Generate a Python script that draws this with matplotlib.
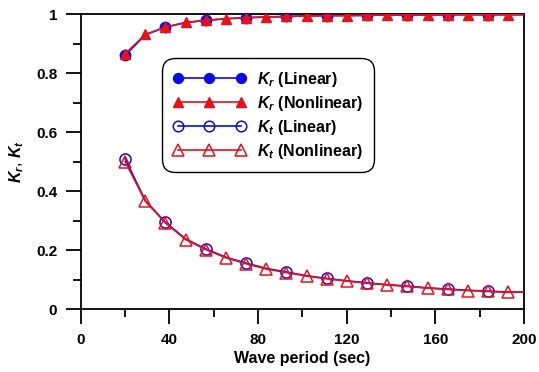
import matplotlib
matplotlib.use("Agg")
import matplotlib.pyplot as plt
from matplotlib.ticker import MultipleLocator

plt.rcParams['font.family'] = ['Liberation Sans', 'DejaVu Sans']
plt.rcParams['font.weight'] = 'bold'
plt.rcParams['mathtext.fontset'] = 'custom'
plt.rcParams['mathtext.it'] = 'Liberation Sans:italic:bold'
plt.rcParams['mathtext.rm'] = 'Liberation Sans:bold'

# Wave period (sec): nonlinear markers every ~9.1 s, linear every ~18.2 s, line ends at 200
period = [20, 29.1, 38.2, 47.3, 56.4, 65.5, 74.6, 83.7, 92.8, 101.9,
          111.0, 120.1, 129.2, 138.3, 147.4, 156.5, 165.6, 174.7, 183.8, 192.9, 200]

kt_nonlinear = [0.500, 0.366, 0.292, 0.236, 0.202, 0.174, 0.154, 0.136, 0.124, 0.112,
                0.103, 0.095, 0.088, 0.082, 0.077, 0.071, 0.067, 0.063, 0.060, 0.057, 0.058]
kt_linear = [0.510, 0.368, 0.294, 0.238, 0.204, 0.176, 0.156, 0.138, 0.126, 0.113,
             0.104, 0.096, 0.089, 0.083, 0.078, 0.072, 0.068, 0.064, 0.061, 0.058, 0.058]
kr_nonlinear = [0.866, 0.931, 0.956, 0.972, 0.979, 0.985, 0.988, 0.991, 0.992, 0.994,
                0.995, 0.995, 0.996, 0.997, 0.997, 0.997, 0.998, 0.998, 0.998, 0.998, 0.998]
kr_linear = [0.860, 0.930, 0.956, 0.971, 0.979, 0.984, 0.988, 0.990, 0.992, 0.994,
             0.995, 0.995, 0.996, 0.997, 0.997, 0.997, 0.998, 0.998, 0.998, 0.998, 0.998]

x_ticks = [0, 40, 80, 120, 160, 200]
y_ticks = [0, 0.2, 0.4, 0.6, 0.8, 1]
y_ticklabels = ['0', '0.2', '0.4', '0.6', '0.8', '1']

fig = plt.figure(figsize=(5.39, 3.72), dpi=100)
ax = fig.add_axes([0.150, 0.169, 0.822, 0.793])

blue = '#0a0ae8'
red = '#e8101a'
lin_marks = list(range(0, 19, 2))
non_marks = list(range(0, 20))

ax.plot(period, kr_linear, '-', color=blue, lw=1.2, marker='o', markersize=7.5,
        markerfacecolor=blue, markeredgecolor=blue, markevery=lin_marks,
        label=r'$K_r$ (Linear)', zorder=3)
ax.plot(period, kr_nonlinear, '-', color=red, lw=1.2, marker='^', markersize=7.5,
        markerfacecolor=red, markeredgecolor=red, markevery=non_marks,
        label=r'$K_r$ (Nonlinear)', zorder=4)
ax.plot(period, kt_linear, '-', color=blue, lw=1.2, marker='o', markersize=8,
        markerfacecolor='none', markeredgecolor=blue, markeredgewidth=1.1,
        markevery=lin_marks, label=r'$K_t$ (Linear)', zorder=3)
ax.plot(period, kt_nonlinear, '-', color=red, lw=1.2, marker='^', markersize=8.5,
        markerfacecolor='none', markeredgecolor=red, markeredgewidth=1.1,
        markevery=non_marks, label=r'$K_t$ (Nonlinear)', zorder=4)

ax.set_xlim(0, 200)
ax.set_ylim(0, 1)
ax.set_xticks(x_ticks)
ax.set_yticks(y_ticks)
ax.set_yticklabels(y_ticklabels)
ax.xaxis.set_minor_locator(MultipleLocator(20))
ax.yaxis.set_minor_locator(MultipleLocator(0.1))
ax.tick_params(which='major', direction='out', length=11, width=1.3, labelsize=11, pad=6)
ax.tick_params(which='minor', direction='out', length=6, width=1.3)
for lab in ax.get_xticklabels() + ax.get_yticklabels():
    lab.set_fontweight('bold')
for sp in ax.spines.values():
    sp.set_linewidth(1.3)
    sp.set_clip_on(False)

ax.set_xlabel('Wave period (sec)', fontsize=11.5, fontweight='bold', labelpad=3)
ax.set_ylabel(r'$K_r$, $K_t$', fontsize=11.5, labelpad=7)

leg = ax.legend(loc='upper left', bbox_to_anchor=(0.184, 0.85), numpoints=3,
                handlelength=4.5, fontsize=11.5, labelspacing=0.32, handletextpad=0.7,
                borderpad=0.7, borderaxespad=0, fancybox=True, framealpha=1,
                edgecolor='black', markerscale=0.95)
leg.get_frame().set_linewidth(1.0)
leg.get_frame().set_boxstyle('round', pad=0.0, rounding_size=0.8)

fig.savefig('out.png', dpi=100)
